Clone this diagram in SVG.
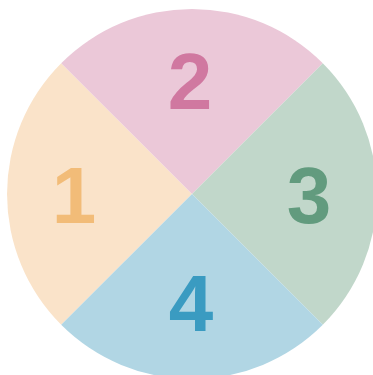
<svg xmlns="http://www.w3.org/2000/svg" width="373" height="375" viewBox="0 0 373 375">
<style>
text{font-family:"Liberation Sans",Arial,sans-serif;font-weight:bold;font-size:80px;text-anchor:middle}
</style>
<rect width="373" height="375" fill="#ffffff"/>
<g id="sector1"><path d="M192,194 L61.2,324.8 A185,185 0 0 1 61.2,63.2 Z" fill="#FAE3C9"/><text x="74" y="223" fill="#F2BC78">1</text></g>
<g id="sector2"><path d="M192,194 L61.2,63.2 A185,185 0 0 1 322.8,63.2 Z" fill="#EBC8D8"/><text x="190" y="109" fill="#D078A0">2</text></g>
<g id="sector3"><path d="M192,194 L322.8,63.2 A185,185 0 0 1 322.8,324.8 Z" fill="#C1D7CA"/><text x="309" y="223" fill="#629B7E">3</text></g>
<g id="sector4"><path d="M192,194 L322.8,324.8 A185,185 0 0 1 61.2,324.8 Z" fill="#B1D6E4"/><text x="191" y="331" fill="#3A9BC1">4</text></g>
<g id="connectors"></g>
</svg>
